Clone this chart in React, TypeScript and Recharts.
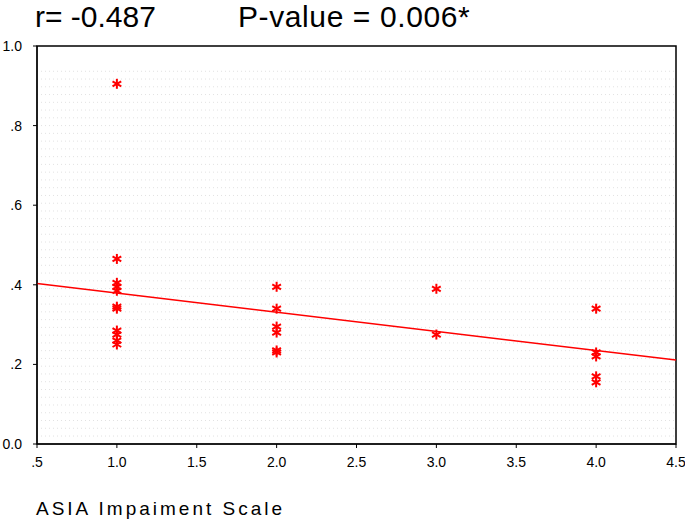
import {
  CartesianGrid,
  ReferenceArea,
  ReferenceLine,
  Scatter,
  ScatterChart,
  XAxis,
  YAxis,
} from "recharts";

// ASIA grade (x) against the measured value (y), one entry per patient
const GRADE_A = [0.905, 0.465, 0.405, 0.395, 0.385, 0.345, 0.34, 0.285, 0.275, 0.26, 0.25];
const GRADE_B = [0.395, 0.34, 0.295, 0.28, 0.235, 0.23];
const GRADE_C = [0.39, 0.275];
const GRADE_D = [0.34, 0.23, 0.22, 0.17, 0.155];

const X_TICKS = [0.5, 1, 1.5, 2, 2.5, 3, 3.5, 4, 4.5];
const X_LABELS = [".5", "1.0", "1.5", "2.0", "2.5", "3.0", "3.5", "4.0", "4.5"];
const Y_TICKS = [0, 0.2, 0.4, 0.6, 0.8, 1];
const Y_LABELS = ["0.0", ".2", ".4", ".6", ".8", "1.0"];

// fitted line at both ends of the x range
const FIT_START = { x: 0.5, y: 0.403 };
const FIT_END = { x: 4.5, y: 0.211 };

const RED = "#ff0000";
const FONT = "'Liberation Sans', Arial, sans-serif";

const points = [
  ...GRADE_A.map((y) => ({ x: 1, y })),
  ...GRADE_B.map((y) => ({ x: 2, y })),
  ...GRADE_C.map((y) => ({ x: 3, y })),
  ...GRADE_D.map((y) => ({ x: 4, y })),
];

// faint dotted background lines, as in the SPSS export
const GRID_Y = Array.from({ length: 48 }, (_, i) => 0.02 + i * 0.0195);

function Asterisk(props: any) {
  const { cx, cy } = props;
  const r = 5;
  const dx = r * 0.87;
  const dy = r * 0.5;
  return (
    <g stroke={RED} strokeWidth={2}>
      <line x1={cx} y1={cy - r} x2={cx} y2={cy + r} />
      <line x1={cx - dx} y1={cy - dy} x2={cx + dx} y2={cy + dy} />
      <line x1={cx - dx} y1={cy + dy} x2={cx + dx} y2={cy - dy} />
    </g>
  );
}

export default function App() {
  return (
    <div style={{ position: "absolute", left: 0, top: 0, width: 685, height: 521, background: "#fff", fontFamily: FONT }}>
      <div style={{ position: "absolute", left: 35, top: 0, fontSize: 30, lineHeight: 1.15, whiteSpace: "nowrap" }}>
        r= -0.487
      </div>
      <div style={{ position: "absolute", left: 238, top: 0, fontSize: 30, lineHeight: 1.15, letterSpacing: 0.6, whiteSpace: "nowrap" }}>
        P-value = 0.006*
      </div>
      <ScatterChart width={685} height={521} margin={{ top: 46, right: 9, bottom: 47, left: 7 }}>
        <CartesianGrid
          horizontal
          vertical={false}
          horizontalValues={GRID_Y}
          stroke="#e2e2e2"
          strokeDasharray="1 3"
        />
        <XAxis
          type="number"
          dataKey="x"
          domain={[0.5, 4.5]}
          ticks={X_TICKS}
          tickFormatter={(v: number) => X_LABELS[X_TICKS.indexOf(v)] ?? String(v)}
          height={30}
          tickSize={4}
          tickMargin={9}
          stroke="#000"
          tick={{ fill: "#000", fontSize: 14, fontFamily: FONT }}
          interval={0}
        />
        <YAxis
          type="number"
          dataKey="y"
          domain={[0, 1]}
          ticks={Y_TICKS}
          tickFormatter={(v: number) => Y_LABELS[Y_TICKS.indexOf(v)] ?? String(v)}
          width={30}
          tickSize={4}
          tickMargin={11}
          stroke="#000"
          tick={{ fill: "#000", fontSize: 14, fontFamily: FONT }}
          interval={0}
        />
        <ReferenceArea x1={0.5} x2={4.5} y1={0} y2={1} fill="none" stroke="#000" strokeWidth={1.5} />
        <ReferenceLine segment={[FIT_START, FIT_END]} stroke={RED} strokeWidth={1.5} />
        <Scatter data={points} shape={<Asterisk />} isAnimationActive={false} />
      </ScatterChart>
      <div
        style={{
          position: "absolute",
          left: 36,
          top: 499,
          fontSize: 19,
          lineHeight: 1,
          letterSpacing: 3,
          whiteSpace: "nowrap",
        }}
      >
        ASIA Impaiment Scale
      </div>
    </div>
  );
}
